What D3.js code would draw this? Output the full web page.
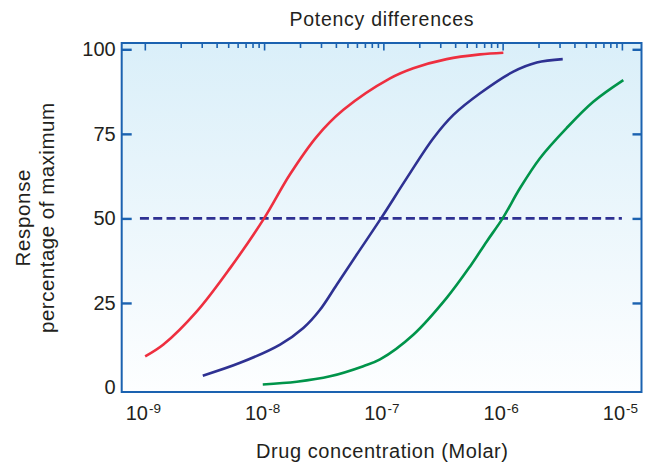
<!DOCTYPE html>
<html>
<head>
<meta charset="utf-8">
<script src="https://cdn.jsdelivr.net/npm/d3@7"></script>
<style>
  html, body { margin: 0; padding: 0; background: #ffffff; }
  svg { display: block; font-family: "Liberation Sans", Arial, sans-serif; }
</style>
</head>
<body>
<svg id="chart" width="650" height="462"></svg>
<script>
// ---- Data ----
const title = "Potency differences";
const xTitle = "Drug concentration (Molar)";
const yTitleLines = ["Response", "percentage of maximum"];

const decades = [1e-9, 1e-8, 1e-7, 1e-6, 1e-5];
const decadeExponents = ["-9", "-8", "-7", "-6", "-5"];
const yTicks = [25, 50, 75, 100];
const yLabels = [0, 25, 50, 75, 100];
const halfLevel = 50;
const halfLineRange = [9.1e-10, 1.0e-5];

// log10 concentration, response (% of maximum)
const redLog  = [-8.997, -8.844, -8.564, -8.285, -8.0, -7.785, -7.558, -7.335, -6.944, -6.749, -6.469, -6.189, -5.994];
const redResp = [9.2, 12.7, 22.5, 35.3, 50, 62.9, 74.2, 82.1, 91.4, 94.4, 97.1, 98.5, 99.0];

const blueLog  = [-8.514, -8.201, -7.866, -7.671, -7.531, -7.391, -7.223, -7.02, -6.804, -6.581, -6.413, -6.189, -5.910, -5.714, -5.496];
const blueResp = [3.5, 7.3, 12.7, 17.6, 23.0, 30.4, 39.3, 50, 61.9, 73.7, 80.6, 87.0, 93.4, 96.1, 97.1];

const greenLog  = [-8.011, -7.726, -7.447, -7.168, -7.028, -6.749, -6.469, -6.273, -6.133, -6.0, -5.855, -5.687, -5.464, -5.240, -4.988];
const greenResp = [0.9, 1.7, 3.3, 6.3, 8.3, 15.6, 26.5, 35.8, 43.2, 50, 58.9, 67.8, 76.7, 84.5, 90.9];

const seriesNames = ["high potency", "medium potency", "low potency"];
const seriesColors = ["#ee2f3f", "#2e3192", "#00944a"];

// ---- Layout ----
const plot = { left: 121.7, right: 641.5, top: 43, bottom: 392 };
const axisColor = "#1b62b0";
const textColor = "#231f20";

const svg = d3.select("#chart");

const x = d3.scaleLog().domain([6.4e-10, 1.46e-5]).range([plot.left, plot.right]);
const y = d3.scaleLinear().domain([0, 100]).range([387.5, 49.3]);

// background gradient
const defs = svg.append("defs");
const grad = defs.append("linearGradient").attr("id", "bg").attr("x1", 0).attr("y1", 0).attr("x2", 0).attr("y2", 1);
grad.append("stop").attr("offset", "0%").attr("stop-color", "#daeff9");
grad.append("stop").attr("offset", "100%").attr("stop-color", "#fdfeff");

svg.append("rect")
  .attr("x", plot.left).attr("y", plot.top)
  .attr("width", plot.right - plot.left).attr("height", plot.bottom - plot.top)
  .attr("fill", "url(#bg)");

// dashed 50% line
svg.append("line")
  .attr("x1", x(halfLineRange[0])).attr("x2", x(halfLineRange[1]))
  .attr("y1", y(halfLevel)).attr("y2", y(halfLevel))
  .attr("stroke", "#2e3192").attr("stroke-width", 2.6)
  .attr("stroke-dasharray", "9,4.3");

// curves
const series = [
  { log: redLog, resp: redResp },
  { log: blueLog, resp: blueResp },
  { log: greenLog, resp: greenResp }
];
const line = d3.line()
  .x(d => x(Math.pow(10, d[0])))
  .y(d => y(d[1]))
  .curve(d3.curveCatmullRom.alpha(0.5));

series.forEach((s, i) => {
  const pts = s.log.map((l, j) => [l, s.resp[j]]);
  svg.append("path")
    .datum(pts)
    .attr("d", line)
    .attr("fill", "none")
    .attr("stroke", seriesColors[i])
    .attr("stroke-width", 2.6)
    .attr("stroke-linecap", "butt")
    .attr("aria-label", seriesNames[i]);
});

// top minor ticks (log)
const minorTicks = [];
decades.forEach(d => {
  for (let m = 2; m <= 9; m++) {
    const v = d * m;
    if (v < x.domain()[1]) minorTicks.push(v);
  }
});
const topMinor = svg.append("g")
  .attr("transform", `translate(0,${plot.top})`)
  .call(d3.axisTop(x).tickValues(minorTicks).tickSize(-5).tickFormat(""));
const topMajor = svg.append("g")
  .attr("transform", `translate(0,${plot.top})`)
  .call(d3.axisTop(x).tickValues(decades).tickSize(-7.5).tickFormat(""));
[topMinor, topMajor].forEach(g => {
  g.select(".domain").remove();
  g.selectAll("line").attr("stroke", axisColor).attr("stroke-width", 1.6);
});

// left ticks
const leftTicks = svg.append("g")
  .attr("transform", `translate(${plot.left},0)`)
  .call(d3.axisLeft(y).tickValues(yTicks).tickSize(-10).tickFormat(""));
leftTicks.select(".domain").remove();
leftTicks.selectAll("line").attr("stroke", axisColor).attr("stroke-width", 2.4);

// right ticks
const rightTicks = svg.append("g")
  .attr("transform", `translate(${plot.right},0)`)
  .call(d3.axisRight(y).tickValues(yTicks).tickSize(-9).tickFormat(""));
rightTicks.select(".domain").remove();
rightTicks.selectAll("line").attr("stroke", axisColor).attr("stroke-width", 2.4);

// left labels
const leftLabels = svg.append("g")
  .attr("transform", `translate(${plot.left},0)`)
  .call(d3.axisLeft(y).tickValues(yLabels).tickSize(0).tickPadding(6).tickFormat(d3.format("d")));
leftLabels.select(".domain").remove();
leftLabels.selectAll("text")
  .attr("fill", textColor)
  .style("font-size", "20px")
  .style("font-family", "Liberation Sans, Arial, sans-serif");

// bottom labels 10^n
const bottomLabels = svg.append("g")
  .attr("transform", `translate(0,${plot.bottom})`)
  .call(d3.axisBottom(x).tickValues(decades).tickSize(0).tickFormat(""));
bottomLabels.select(".domain").remove();
bottomLabels.selectAll(".tick text").remove();
bottomLabels.selectAll(".tick").each(function(d, i) {
  const t = d3.select(this).append("text")
    .attr("x", -2)
    .attr("y", 28)
    .attr("text-anchor", "middle")
    .attr("fill", textColor)
    .style("font-size", "20px")
    .style("font-family", "Liberation Sans, Arial, sans-serif");
  t.append("tspan").text("10");
  t.append("tspan").attr("dy", -7.5).attr("dx", 1).style("font-size", "13.5px").text(decadeExponents[i]);
});

// plot border
svg.append("rect")
  .attr("x", plot.left).attr("y", plot.top)
  .attr("width", plot.right - plot.left).attr("height", plot.bottom - plot.top)
  .attr("fill", "none")
  .attr("stroke", axisColor).attr("stroke-width", 2);

// titles
svg.append("text")
  .attr("x", 381.5).attr("y", 26)
  .attr("text-anchor", "middle")
  .attr("fill", textColor)
  .attr("textLength", 184)
  .attr("lengthAdjust", "spacing")
  .style("font-size", "19.5px")
  .text(title);

svg.append("text")
  .attr("x", 382).attr("y", 458)
  .attr("text-anchor", "middle")
  .attr("fill", textColor)
  .attr("textLength", 252)
  .attr("lengthAdjust", "spacing")
  .style("font-size", "20px")
  .text(xTitle);

const yt = svg.append("g").attr("transform", "translate(30,218) rotate(-90)");
yt.append("text")
  .attr("x", 0).attr("y", 0)
  .attr("text-anchor", "middle")
  .attr("fill", textColor)
  .attr("textLength", 97)
  .attr("lengthAdjust", "spacing")
  .style("font-size", "20.5px")
  .text(yTitleLines[0]);
yt.append("text")
  .attr("x", 0).attr("y", 24)
  .attr("text-anchor", "middle")
  .attr("fill", textColor)
  .attr("textLength", 230)
  .attr("lengthAdjust", "spacing")
  .style("font-size", "20.5px")
  .text(yTitleLines[1]);
</script>
</body>
</html>
